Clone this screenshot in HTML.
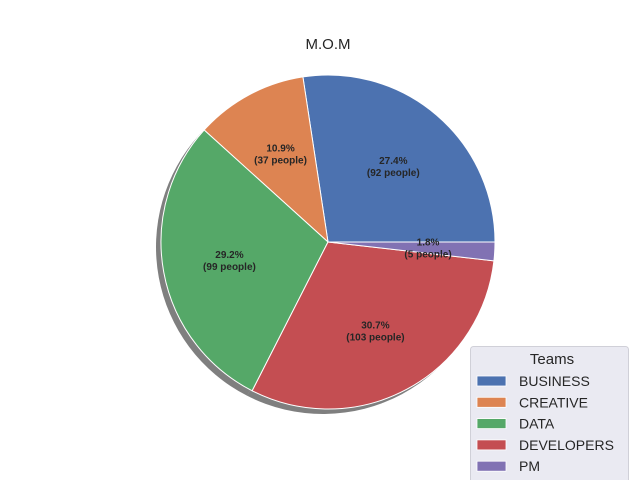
<!DOCTYPE html>
<html><head><meta charset="utf-8">
<style>
html,body{margin:0;padding:0;background:#fff;}
svg{display:block;font-family:"Liberation Sans","DejaVu Sans",sans-serif;}
</style></head>
<body>
<svg id="chart" width="640" height="480" viewBox="0 0 640 480">
<text x="328" y="49" text-anchor="middle" font-size="15" fill="#262626">M.O.M</text>
<g id="shadow"></g>
<g id="slices"></g>
<g id="labels"></g>
<g id="legend">
<rect x="470.5" y="346.5" width="158" height="140" rx="3" fill="#eaeaf2" stroke="#d0d0d8"/>
<text x="552" y="364" text-anchor="middle" font-size="15" fill="#262626">Teams</text>
</g>
</svg>
<script>
const categories = ["BUSINESS","CREATIVE","DATA","DEVELOPERS","PM"];
const shares = [27.4, 10.9, 29.2, 30.7, 1.8];
const people = [92, 37, 99, 103, 5];
const colors = ["#4c72b0","#dd8452","#55a868","#c44e52","#8172b3"];
const NS="http://www.w3.org/2000/svg";
const cx=328, cy=242, r=167;
const total=shares.reduce((a,b)=>a+b,0);
function pt(a,rad,ox,oy){return [cx+(ox||0)+rad*Math.cos(a), cy+(oy||0)-rad*Math.sin(a)];}
function wedge(a0,a1,ox,oy){
  const p0=pt(a0,r,ox,oy), p1=pt(a1,r,ox,oy);
  const large=(a1-a0)>Math.PI?1:0;
  return `M${cx+(ox||0)},${cy+(oy||0)} L${p0[0]},${p0[1]} A${r},${r} 0 ${large} 0 ${p1[0]},${p1[1]} Z`;
}
const sh=document.getElementById('shadow'), sl=document.getElementById('slices'), lb=document.getElementById('labels'), lg=document.getElementById('legend');
let a=0;
shares.forEach((v,i)=>{
  const a1=a+v/total*2*Math.PI;
  const s=document.createElementNS(NS,'path');
  s.setAttribute('d',wedge(a,a1,-5,5));
  s.setAttribute('fill','#000'); s.setAttribute('opacity','0.5');
  
  
  sh.appendChild(s);
  const p=document.createElementNS(NS,'path');
  p.setAttribute('d',wedge(a,a1));
  p.setAttribute('fill',colors[i]); p.setAttribute('stroke','#fff'); p.setAttribute('stroke-width','1');
  
  
  sl.appendChild(p);
  const m=(a+a1)/2, lp=pt(m,r*0.6);
  const t=document.createElementNS(NS,'text');
  t.setAttribute('x',lp[0]); t.setAttribute('y',lp[1]-2);
  t.setAttribute('text-anchor','middle'); t.setAttribute('font-size','10'); t.setAttribute('font-weight','bold'); t.setAttribute('fill','#262626');
  
  
  const t1=document.createElementNS(NS,'tspan'); t1.setAttribute('x',lp[0]); t1.textContent=v.toFixed(1)+'%';
  const t2=document.createElementNS(NS,'tspan'); t2.setAttribute('x',lp[0]); t2.setAttribute('dy','12'); t2.textContent='('+people[i]+' people)';
  t.appendChild(t1); t.appendChild(t2); lb.appendChild(t);
  const y=381+i*21.3;
  const rc=document.createElementNS(NS,'rect');
  rc.setAttribute('x',477); rc.setAttribute('y',y-5); rc.setAttribute('width',29); rc.setAttribute('height',10);
  rc.setAttribute('fill',colors[i]); rc.setAttribute('stroke','#fff'); rc.setAttribute('stroke-width','0.8');
  
  
  lg.appendChild(rc);
  const lt=document.createElementNS(NS,'text');
  lt.setAttribute('x',519); lt.setAttribute('y',y+5); lt.setAttribute('font-size','14'); lt.setAttribute('fill','#262626');
  lt.textContent=categories[i];
  
  
  lg.appendChild(lt);
  a=a1;
});
</script>
</body></html>
